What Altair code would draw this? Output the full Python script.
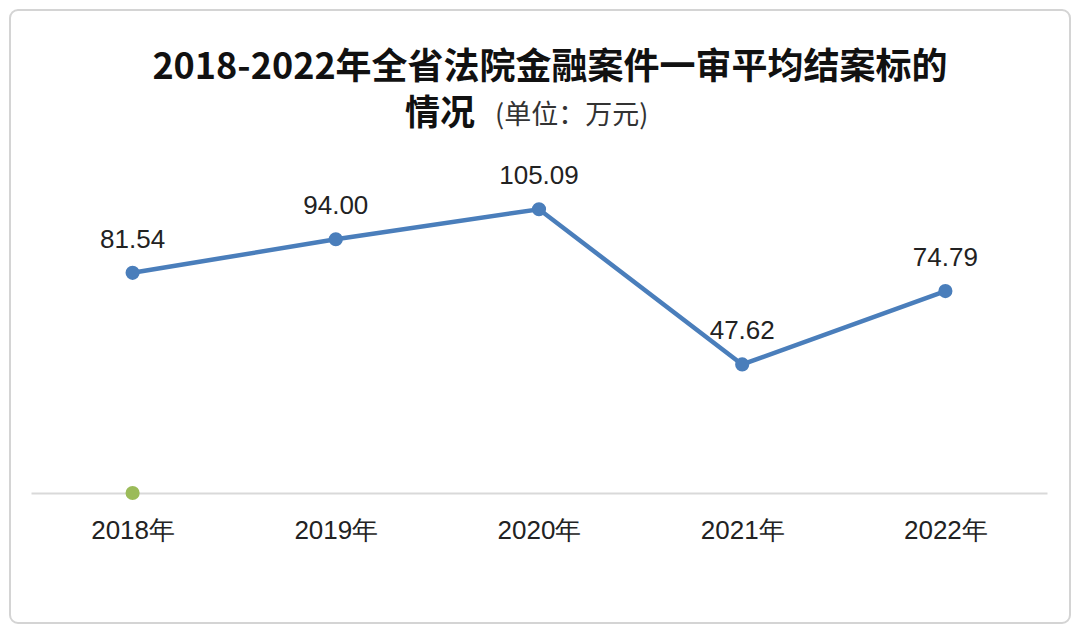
import altair as alt
import pandas as pd

years = ["2018年", "2019年", "2020年", "2021年", "2022年"]
values = [81.54, 94.00, 105.09, 47.62, 74.79]
labels = ["81.54", "94.00", "105.09", "47.62", "74.79"]
green_years = ["2018年"]
green_values = [0]
title_line1 = "2018-2022年全省法院金融案件一审平均结案标的"
title_line2a = "情况"
title_line2b = "(单位：万元)"

df = pd.DataFrame({"year": years, "value": values, "label": labels})
dg = pd.DataFrame({"year": green_years, "value": green_values})
tdf = pd.DataFrame({"t1": [title_line1], "a": [title_line2a], "b": [title_line2b]})

x_enc = alt.X("year:N", sort=years, title=None,
              scale=alt.Scale(type="point", padding=0.5),
              axis=alt.Axis(domainColor="#d9d9d9", domainWidth=2, ticks=False,
                            labelFontSize=26, labelColor="#222222", labelPadding=24,
                            labelFont="Liberation Sans", labelAngle=0, grid=False))
y_enc = alt.Y("value:Q", scale=alt.Scale(domain=[0, 120], nice=False), axis=None)

base = alt.Chart(df)
line = base.mark_line(color="#4a7ebb", strokeWidth=4.5).encode(x=x_enc, y=y_enc)
pts = base.mark_circle(color="#4a7ebb", size=200, opacity=1).encode(x=x_enc, y=y_enc)
txt = base.mark_text(fontSize=26, font="Liberation Sans", color="#222222", dy=-25,
                     baseline="alphabetic").encode(x=x_enc, y=y_enc, text="label:N")
green = alt.Chart(dg).mark_circle(color="#9bbb59", size=200, opacity=1).encode(x=x_enc, y=y_enc)

t1 = alt.Chart(tdf).mark_text(fontSize=36, fontWeight="bold", font="Noto Sans CJK SC",
                               color="#111111", align="center", baseline="middle").encode(
    x=alt.value(519), y=alt.value(-101), text="t1:N")
sub1 = alt.Chart(tdf).mark_text(fontSize=35, fontWeight="bold", font="Noto Sans CJK SC",
                                 color="#111111", align="center", baseline="middle").encode(
    x=alt.value(409), y=alt.value(-55), text="a:N")
sub2 = alt.Chart(tdf).mark_text(fontSize=27, font="Noto Sans CJK SC",
                                 color="#333333", align="left", baseline="middle").encode(
    x=alt.value(464), y=alt.value(-53), text="b:N")

frame = alt.Chart(tdf).mark_rect(fillOpacity=0, stroke="#d4d4d4", strokeWidth=2,
                                  cornerRadius=8).encode(
    x=alt.value(-21), x2=alt.value(1039), y=alt.value(-159), y2=alt.value(454))

chart = alt.layer(frame, line, pts, green, txt, t1, sub1, sub2).properties(
    width=1016, height=324,
    autosize=alt.AutoSizeParams(type="none"),
    padding={"left": 23, "top": 161, "right": 25, "bottom": 132},
).configure_view(stroke=None)

chart.save("out.html", embed_options={"renderer": "svg", "actions": False})
